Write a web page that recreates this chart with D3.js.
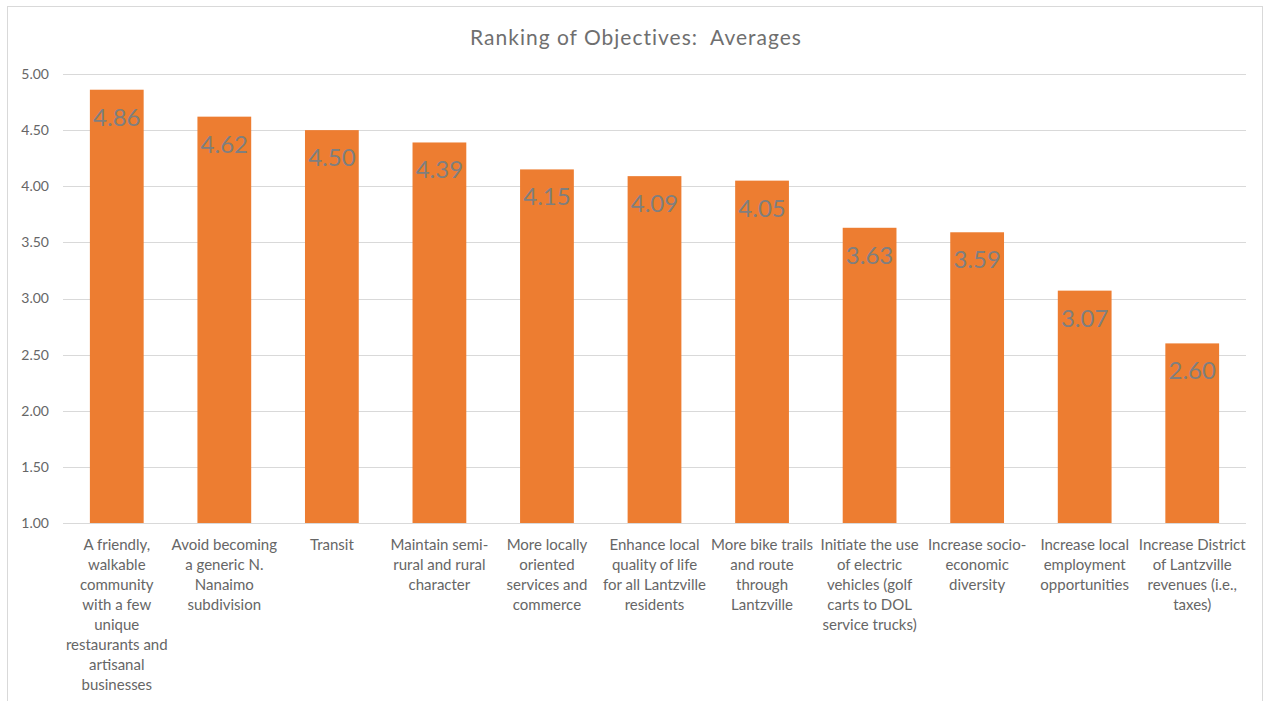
<!DOCTYPE html>
<html>
<head>
<meta charset="utf-8">
<script src="https://cdn.jsdelivr.net/npm/d3@7"></script>
<style>
	body { margin: 0; background: #fff; }
	text { font-family: Lato, "Open Sans", sans-serif; }
</style>
</head>
<body>
<div id="chart"></div>
<script>
var title = "Ranking of Objectives:  Averages";
var categories = [
	"A friendly,\nwalkable\ncommunity\nwith a few\nunique\nrestaurants and\nartisanal\nbusinesses",
	"Avoid becoming\na generic N.\nNanaimo\nsubdivision",
	"Transit",
	"Maintain semi-\nrural and rural\ncharacter",
	"More locally\noriented\nservices and\ncommerce",
	"Enhance local\nquality of life\nfor all Lantzville\nresidents",
	"More bike trails\nand route\nthrough\nLantzville",
	"Initiate the use\nof electric\nvehicles (golf\ncarts to DOL\nservice trucks)",
	"Increase socio-\neconomic\ndiversity",
	"Increase local\nemployment\nopportunities",
	"Increase District\nof Lantzville\nrevenues (i.e.,\ntaxes)"
];
var averages = [4.86, 4.62, 4.50, 4.39, 4.15, 4.09, 4.05, 3.63, 3.59, 3.07, 2.60];
var yTicks = [1, 1.5, 2, 2.5, 3, 3.5, 4, 4.5, 5];

var W = 1266, H = 701;
var plotLeft = 63, plotRight = 1246, plotTop = 74, plotBottom = 523;

var svg = d3.select("#chart").append("svg")
	.attr("width", W)
	.attr("height", H);

svg.append("rect")
	.attr("x", 7.5).attr("y", 6.5)
	.attr("width", 1255).attr("height", 700)
	.attr("fill", "#fff")
	.attr("stroke", "#d9d9d9");

// title sits centred on the whole chart box, not the plot
svg.append("text")
	.attr("x", 636)
	.attr("y", 45)
	.attr("text-anchor", "middle")
	.attr("font-size", 21)
	.attr("letter-spacing", 1)
	.attr("fill", "#6f6f6f")
	.style("white-space", "pre")
	.text(title);

var x = d3.scaleBand().domain(d3.range(categories.length)).range([plotLeft, plotRight]).paddingInner(0.5).paddingOuter(0.25);
var y = d3.scaleLinear().domain([1, 5]).range([plotBottom, plotTop]);

// gridlines
svg.append("g").selectAll("line").data(yTicks)
	.enter().append("line")
	.attr("x1", plotLeft).attr("x2", plotRight)
	.attr("y1", function(d){ return Math.round(y(d)) + 0.5; })
	.attr("y2", function(d){ return Math.round(y(d)) + 0.5; })
	.attr("stroke", "#d9d9d9")
	.attr("stroke-width", 1);

svg.append("g").selectAll("text").data(yTicks)
	.enter().append("text")
	.attr("x", 49)
	.attr("y", function(d){ return y(d); })
	.attr("dy", "0.35em")
	.attr("text-anchor", "end")
	.attr("font-size", 14)
	.attr("fill", "#666")
	.text(function(d){ return d3.format(".2f")(d); });

// bars
svg.append("g").selectAll("rect").data(averages)
	.enter().append("rect")
	.attr("x", function(d, i){ return x(i); })
	.attr("y", function(d){ return y(d); })
	.attr("width", x.bandwidth())
	.attr("height", function(d){ return plotBottom - y(d); })
	.attr("fill", "#ed7d31");

// value labels
svg.append("g").selectAll("text").data(averages)
	.enter().append("text")
	.attr("x", function(d, i){ return x(i) + x.bandwidth() / 2; })
	.attr("y", function(d){ return y(d) + 36; })
	.attr("text-anchor", "middle")
	.attr("font-size", 24)
	.attr("fill", "#7f7f7f")
	.text(function(d){ return d3.format(".2f")(d); });

// category labels
var cat = svg.append("g").selectAll("text").data(categories)
	.enter().append("text")
	.attr("text-anchor", "middle")
	.attr("font-size", 15)
	.attr("fill", "#666");
cat.each(function(d, i){
	var t = d3.select(this);
	d.split("\n").forEach(function(line, k){
		t.append("tspan")
			.attr("x", x(i) + x.bandwidth() / 2)
			.attr("y", 550 + k * 20)
			.text(line);
	});
});
</script>
</body>
</html>
